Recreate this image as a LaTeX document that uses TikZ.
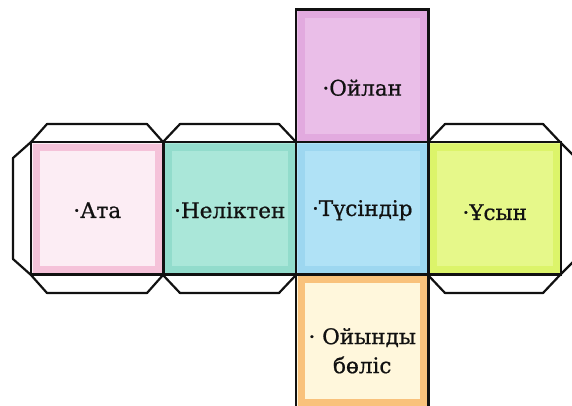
\documentclass[tikz,border=0pt]{standalone}
\usepackage{fontspec}
\setmainfont[FakeBold=0.8]{DejaVu Serif}
\usetikzlibrary{positioning}
\definecolor{ink}{HTML}{111111}
\definecolor{pinkb}{HTML}{F5C2D9}
\definecolor{pinki}{HTML}{FCEDF4}
\definecolor{lilacb}{HTML}{E2AADF}
\definecolor{lilaci}{HTML}{EABEE8}
\definecolor{tealb}{HTML}{92DCCC}
\definecolor{teali}{HTML}{AAE7D9}
\definecolor{blueb}{HTML}{9DD7F0}
\definecolor{bluei}{HTML}{B0E2F6}
\definecolor{limeb}{HTML}{DCF46A}
\definecolor{limei}{HTML}{E6F88A}
\definecolor{orangeb}{HTML}{F9C27C}
\definecolor{orangei}{HTML}{FFF7DC}
\tikzset{
  face/.style={draw=ink,line width=2.2pt,minimum width=132.5pt,minimum height=132.5pt,inner sep=0pt,
    outer sep=0pt,align=center,font=\fontsize{21.5}{29}\selectfont,text=ink},
  flap/.style={draw=ink,line width=2.2pt,line join=round,fill=white},
  band/.style={line width=7pt},
  word/.style={face,draw=none,minimum size=0pt},
}
\newcommand{\facecol}[3]{%
  \fill[#2] (#1.south west) rectangle (#1.north east);
  \draw[#3,band] ([shift={(5pt,5pt)}]#1.south west) rectangle ([shift={(-5pt,-5pt)}]#1.north east);
}
\begin{document}
\begin{tikzpicture}[x=1pt,y=-1pt]
\useasboundingbox (0,0) rectangle (572,405);
% flaps
\draw[flap] (31,142) -- (47,124) -- (147,124) -- (163,142);
\draw[flap] (31,275) -- (47,293) -- (147,293) -- (163,275);
\draw[flap] (31,142) -- (13,158) -- (13,259) -- (31,275);
\draw[flap] (163,142) -- (180,124) -- (279,124) -- (296,142);
\draw[flap] (163,275) -- (180,293) -- (279,293) -- (296,275);
\draw[flap] (428,142) -- (445,124) -- (543,124) -- (560,142);
\draw[flap] (428,275) -- (445,293) -- (543,293) -- (560,275);
\draw[flap] (560,142) -- (575,157) -- (575,260) -- (560,275);
% faces
\node[face,anchor=north west] (ata) at (31,142) {};
\node[face,right=0pt of ata] (nel) {};
\node[face,right=0pt of nel] (tus) {};
\node[face,right=0pt of tus] (usyn) {};
\node[face,above=0pt of tus] (oilan) {};
\node[face,below=0pt of tus] (oiyn) {};
\facecol{ata}{pinki}{pinkb}
\facecol{nel}{teali}{tealb}
\facecol{tus}{bluei}{blueb}
\facecol{usyn}{limei}{limeb}
\facecol{oilan}{lilaci}{lilacb}
\facecol{oiyn}{orangei}{orangeb}
\foreach \f in {ata,nel,tus,usyn,oilan,oiyn}
  \draw[ink,line width=2.2pt] (\f.south west) rectangle (\f.north east);
% labels
\node[word] (tata) at ([yshift=-2pt]ata) {·Ата};
\node[word] (tnel) at ([yshift=-2pt]nel) {·Неліктен};
\node[word] (ttus) at ([yshift=-2pt]tus) {·Түсіндір};
\node[word] (tusyn) at ([yshift=-4pt]usyn) {·Ұсын};
\node[word] (toilan) at ([yshift=-12pt]oilan) {·Ойлан};
\node[word] (toiyn) at ([yshift=-10pt]oiyn) {· Ойынды\\бөліс};
\end{tikzpicture}
\end{document}
